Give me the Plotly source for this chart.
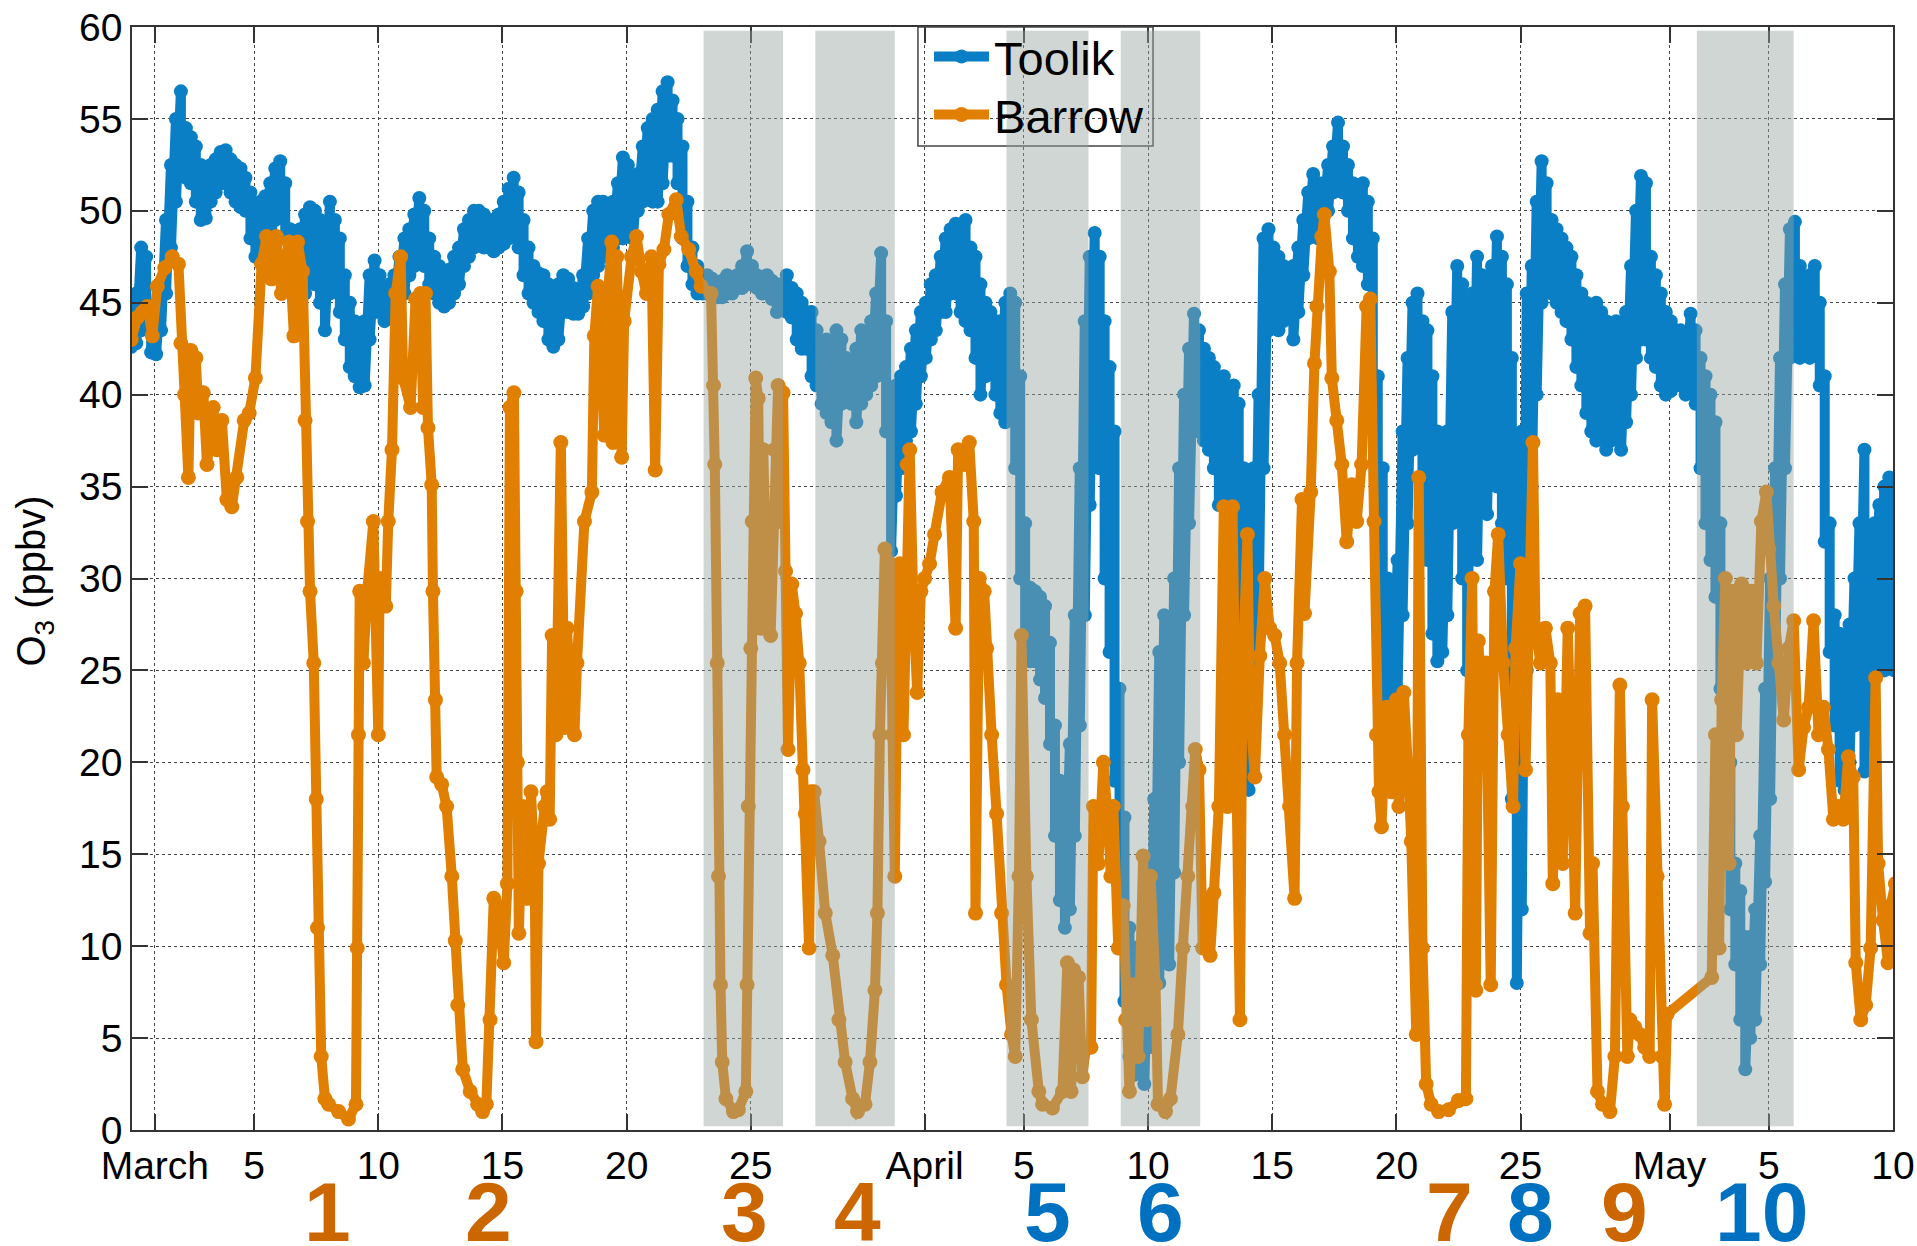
import plotly.graph_objects as go

# ---------------- data (day offset from March 1, 00:00) ----------------
tool_t = [-0.95,-0.75,-0.55,-0.35,-0.15,0.05,0.25,0.45,0.65,0.85,1.05,1.25,1.45,1.65,1.85,2.05,2.25,2.45,2.65,2.85,
          3.05,3.25,3.45,3.65,3.85,4.05,4.25,4.45,4.65,4.85,5.05,5.25,5.45,5.65,5.85,6.05,6.25,6.45,6.65,6.85,
          7.05,7.25,7.45,7.65,7.85,8.05,8.25,8.45,8.65,8.85,9.05,9.25,9.45,9.65,9.85,10.05,10.25,10.45,10.65,10.85,
          11.05,11.25,11.45,11.65,11.85,12.05,12.25,12.45,12.65,12.85,13.05,13.25,13.45,13.65,13.85,14.05,14.25,14.45,14.65,14.85,
          15.05,15.25,15.45,15.65,15.85,16.05,16.25,16.45,16.65,16.85,17.05,17.25,17.45,17.65,17.85,18.05,18.25,18.45,18.65,18.85,
          19.05,19.25,19.45,19.65,19.85,20.05,20.25,20.45,20.65,20.85,21.05,21.25,21.45,21.65,21.85,22.05,22.25,22.45,22.65,22.85,
          23.05,23.25,23.45,23.65,23.85,24.05,24.25,24.45,24.65,24.85,25.05,25.25,25.45,25.65,25.85,26.05,26.25,26.45,26.65,26.85,
          27.05,27.25,27.45,27.65,27.85,28.05,28.25,28.45,28.65,28.85,29.05,29.25,29.45,29.65,29.85,30.05,30.25,30.45,30.65,30.85,
          31.05,31.25,31.45,31.65,31.85,32.05,32.25,32.45,32.65,32.85,33.05,33.25,33.45,33.65,33.85,34.05,34.25,34.45,34.65,34.85,
          35.05,35.25,35.45,35.65,35.85,36.05,36.25,36.45,36.65,36.85,37.05,37.25,37.45,37.65,37.85,38.05,38.25,38.45,38.65,38.85,
          39.05,39.25,39.45,39.65,39.85,40.05,40.25,40.45,40.65,40.85,41.05,41.25,41.45,41.65,41.85,42.05,42.25,42.45,42.65,42.85,
          43.05,43.25,43.45,43.65,43.85,44.05,44.25,44.45,44.65,44.85,45.05,45.25,45.45,45.65,45.85,46.05,46.25,46.45,46.65,46.85,
          47.05,47.25,47.45,47.65,47.85,48.05,48.25,48.45,48.65,48.85,49.05,49.25,49.45,49.65,49.85,50.05,50.25,50.45,50.65,50.85,
          51.05,51.25,51.45,51.65,51.85,52.05,52.25,52.45,52.65,52.85,53.05,53.25,53.45,53.65,53.85,54.05,54.25,54.45,54.65,54.85,
          55.05,55.25,55.45,55.65,55.85,56.05,56.25,56.45,56.65,56.85,57.05,57.25,57.45,57.65,57.85,58.05,58.25,58.45,58.65,58.85,
          59.05,59.25,59.45,59.65,59.85,60.05,60.25,60.45,60.65,60.85,61.05,61.25,61.45,61.65,61.85,62.05,62.25,62.45,62.65,62.85,
          63.05,63.25,63.45,63.65,63.85,64.05,64.25,64.45,64.65,64.85,65.05,65.25,65.45,65.65,65.85,66.05,66.25,66.45,66.65,66.85,
          67.05,67.25,67.45,67.65,67.85,68.05,68.25,68.45,68.65,68.85,69.05,69.25,69.45,69.65,69.85,70.05]
tool_hi = [44.5,45.5,48.0,47.5,44.5,44.5,46.0,49.5,52.5,55.0,56.5,54.5,54.0,53.5,52.5,52.0,52.5,52.8,53.2,53.3,
           52.8,52.5,52.3,51.8,51.0,50.0,50.5,50.8,51.5,52.3,52.7,51.5,49.0,48.5,49.0,49.8,50.2,50.0,49.5,48.5,
           50.5,49.5,48.5,46.5,45.0,44.0,43.0,44.0,46.5,47.3,46.5,45.5,46.0,46.5,47.5,48.5,49.0,49.8,50.7,50.0,
           48.5,47.5,47.0,46.5,46.8,47.5,48.0,49.0,49.5,50.0,50.0,49.8,49.5,49.5,49.8,50.5,51.2,51.8,51.0,49.5,
           48.0,47.0,46.6,46.5,46.0,45.5,46.0,46.5,46.3,45.8,45.5,46.5,48.5,50.0,50.5,50.5,50.2,50.5,51.5,52.9,
           52.5,51.0,52.0,53.5,54.5,55.0,55.5,56.5,57.0,56.0,55.0,53.5,50.5,48.0,47.0,46.5,46.5,46.3,46.0,46.2,
           46.5,46.2,46.5,47.0,47.8,47.0,46.5,46.3,46.5,46.2,46.0,46.0,46.5,45.8,45.5,45.0,44.5,44.5,43.5,42.5,
           43.0,42.0,43.5,43.0,42.0,41.5,42.5,43.5,42.5,44.0,45.5,47.7,44.0,38.0,40.5,41.0,41.5,42.5,43.5,44.5,
           45.0,46.0,46.5,47.5,48.5,49.0,49.3,48.5,49.5,48.0,47.5,46.0,45.0,44.5,44.0,44.0,45.0,45.5,45.0,41.0,
           33.0,29.5,29.3,29.0,28.5,26.5,22.0,19.0,17.0,21.0,28.0,36.0,44.0,47.5,48.8,47.5,44.0,41.5,38.0,24.0,
           17.0,11.0,9.5,10.0,12.0,14.0,18.0,26.0,28.0,26.0,30.0,36.0,40.0,42.5,44.4,43.5,42.5,42.0,41.5,40.5,
           41.0,40.0,40.5,39.5,36.0,33.0,36.0,40.0,48.5,49.0,48.0,47.5,47.0,46.5,47.0,48.0,49.5,51.0,52.0,51.5,
           51.5,52.5,53.5,54.8,53.5,52.5,51.5,51.0,51.5,50.5,48.5,41.0,36.0,30.0,28.5,31.0,38.0,42.0,45.0,45.5,
           44.0,43.5,41.0,38.0,35.0,38.0,44.5,47.0,46.0,44.0,45.5,47.5,46.5,45.5,47.0,48.6,47.5,46.0,42.0,30.0,
           38.0,45.5,47.0,50.5,52.7,51.5,49.5,49.0,48.5,48.0,47.5,46.5,45.5,45.0,44.5,45.0,44.5,44.0,43.5,44.0,
           43.5,44.5,47.0,50.0,51.9,51.5,47.5,46.5,45.5,44.5,44.0,43.5,43.5,43.0,44.4,43.5,42.0,41.0,40.0,38.5,
           33.0,27.0,20.0,14.5,13.0,10.5,10.5,12.0,16.0,24.0,30.0,36.0,42.0,46.0,49.0,49.4,47.0,46.0,46.5,47.0,
           45.0,41.0,33.0,28.0,27.0,26.5,27.5,30.0,33.0,37.0,31.0,33.0,34.0,35.0,35.5,35.0]
tool_lo = [42.6,42.8,43.5,44.0,42.3,42.2,43.5,45.5,48.0,50.5,52.0,51.8,51.5,50.5,49.5,49.6,50.5,51.0,51.5,51.5,
           51.0,50.5,50.2,50.0,48.5,47.5,48.5,48.8,49.0,49.5,50.0,48.5,47.0,45.0,44.5,45.5,46.5,46.0,45.0,43.5,
           45.5,46.0,44.5,43.0,41.5,41.0,40.4,40.5,43.0,44.5,44.5,44.0,44.3,44.5,45.0,45.5,46.5,47.0,47.5,47.0,
           46.0,45.5,45.0,44.8,45.0,45.5,46.0,47.0,47.5,48.0,48.2,48.0,48.0,47.8,48.0,48.2,48.5,49.0,48.0,46.5,
           45.5,45.0,44.5,44.0,43.0,42.6,43.0,44.5,44.5,44.4,44.4,44.8,45.5,46.5,47.0,47.5,47.5,48.0,48.5,48.5,
           49.0,48.5,50.0,50.5,51.0,50.5,50.5,51.5,53.0,53.0,51.5,48.5,47.0,46.0,45.5,45.5,45.5,45.3,45.3,45.3,
           45.5,45.5,45.8,45.8,46.0,46.0,45.8,45.5,45.8,45.2,44.5,44.8,44.5,44.2,43.0,42.5,42.5,41.0,40.5,39.5,
           39.0,38.5,37.5,39.5,40.0,39.5,38.5,39.5,40.0,40.5,41.0,42.0,38.0,31.5,34.5,36.0,37.5,38.0,39.5,41.0,
           42.0,43.0,43.5,44.5,44.5,45.5,45.5,44.5,44.0,43.5,42.0,40.0,41.0,42.0,40.0,39.0,38.5,40.0,36.0,30.0,
           26.0,25.5,25.5,24.5,23.5,21.0,16.0,12.5,11.0,12.0,16.0,22.0,28.0,34.0,38.0,36.0,30.0,26.0,19.0,10.0,
           7.0,4.0,3.0,3.5,2.5,4.5,6.0,8.0,10.0,9.0,14.0,20.0,28.0,33.0,38.0,38.0,37.5,37.0,36.0,34.0,
           34.5,33.0,30.0,22.0,19.5,18.5,22.0,28.0,36.0,43.5,44.0,43.5,44.0,44.5,43.0,44.5,46.5,48.5,49.0,48.5,
           49.0,50.0,51.0,51.5,51.0,50.0,48.5,47.5,47.0,46.0,40.0,31.0,23.0,22.0,21.5,24.0,28.0,33.0,37.0,38.5,
           35.0,31.0,27.0,25.5,26.0,28.0,33.0,36.0,30.0,25.0,33.0,31.0,34.0,33.5,36.0,35.0,33.0,30.0,18.0,8.0,
           12.0,25.0,35.0,40.0,45.0,46.5,45.5,45.0,44.5,44.0,43.0,41.5,40.5,39.0,38.0,37.5,38.0,37.0,37.5,38.0,
           37.0,38.5,40.0,42.0,43.0,43.0,42.0,41.5,40.5,40.0,40.2,40.5,40.5,40.0,40.5,39.5,36.0,33.0,31.0,29.0,
           24.0,16.0,12.0,9.0,6.0,3.3,5.0,6.0,9.0,13.5,18.0,25.0,30.0,36.0,42.0,43.0,42.0,42.5,42.0,43.0,
           40.5,32.0,26.0,22.0,19.0,18.5,20.0,22.0,24.0,19.5,22.0,25.0,26.0,25.0,26.0,25.0]

bar_t = [-0.95,-0.7,-0.5,-0.3,-0.1,0.1,0.4,0.7,0.95,1.05,1.2,1.35,1.45,1.5,1.65,1.75,1.95,2.1,2.35,2.5,
         2.7,2.9,3.1,3.3,3.6,3.8,4.05,4.3,4.5,4.7,4.9,5.1,5.4,5.6,5.75,5.95,6.05,6.15,6.25,6.4,
         6.5,6.55,6.7,6.85,7.0,7.4,7.8,8.1,8.15,8.2,8.25,8.4,8.55,8.8,9.0,9.05,9.3,9.4,9.55,9.7,
         9.9,10.0,10.3,10.5,10.7,10.8,10.9,11.0,11.15,11.2,11.3,11.35,11.55,11.75,11.96,12.1,12.2,12.4,12.7,13.0,
         13.2,13.35,13.5,13.65,13.8,14.05,14.2,14.3,14.46,14.55,14.6,14.66,14.8,15.0,15.15,15.3,15.35,15.45,15.7,15.8,
         15.9,16.0,16.15,16.35,16.5,16.6,16.75,16.9,17.0,17.3,17.6,17.7,17.85,18.0,18.1,18.25,18.4,18.45,18.6,18.8,
         18.9,19.2,19.4,19.6,19.8,20.0,20.15,20.3,20.5,20.7,21.0,21.2,21.5,21.8,22.0,22.4,22.5,22.55,22.65,22.7,
         22.78,22.85,23.0,23.3,23.5,23.8,23.85,23.9,24.0,24.06,24.2,24.3,24.4,24.5,24.65,24.8,24.95,25.1,25.2,25.3,
         25.4,25.5,25.65,25.8,25.95,26.1,26.2,26.35,26.42,26.55,26.75,27.0,27.3,27.55,27.8,28.1,28.3,28.6,28.8,29.0,
         29.1,29.2,29.3,29.4,29.6,29.7,29.8,29.9,30.0,30.15,30.3,30.4,30.55,30.7,30.85,31.0,31.2,31.4,31.7,32.0,
         32.25,32.35,32.6,32.8,32.98,33.05,33.2,33.4,33.5,33.7,33.9,34.1,34.3,34.5,34.65,34.8,34.9,35.1,35.3,35.6,
         35.75,36.15,36.55,36.75,36.9,37.0,37.2,37.35,37.5,37.7,37.8,38.0,38.2,38.4,38.5,38.6,38.8,39.0,39.1,39.25,
         39.4,39.6,39.8,39.95,40.1,40.3,40.4,40.7,40.9,41.2,41.4,41.6,41.8,41.9,42.05,42.2,42.4,42.5,42.65,42.85,
         43.05,43.2,43.4,43.5,43.7,43.8,44.0,44.1,44.3,44.5,44.7,44.9,45.1,45.3,45.5,45.7,45.9,46.0,46.2,46.3,
         46.55,46.7,46.8,47.0,47.1,47.3,47.4,47.6,47.8,48.0,48.2,48.4,48.6,48.8,48.95,49.1,49.2,49.3,49.4,49.6,
         49.8,50.0,50.1,50.3,50.5,50.6,50.8,50.9,51.05,51.2,51.4,51.7,52.1,52.5,52.8,52.9,53.05,53.2,53.3,53.5,
         53.6,53.8,53.95,54.1,54.3,54.5,54.7,54.8,55.0,55.2,55.4,55.5,55.6,55.8,56.0,56.2,56.3,56.5,56.7,56.9,
         57.1,57.2,57.4,57.6,57.8,57.9,58.1,58.3,58.6,58.8,59.0,59.1,59.3,59.4,59.6,59.8,60.0,60.2,60.3,60.5,
         60.7,60.8,60.9,62.7,62.85,63.0,63.1,63.25,63.4,63.5,63.7,63.9,64.1,64.3,64.5,64.7,64.9,65.0,65.2,65.4,
         65.6,65.8,66.0,66.2,66.4,66.6,66.8,67.0,67.2,67.4,67.6,67.8,68.0,68.2,68.4,68.5,68.7,68.9,69.1,69.3,
         69.4,69.6,69.8,69.9,70.1]
bar_v = [43.0,44.2,44.5,44.8,43.2,45.9,46.9,47.5,47.1,42.8,40.0,35.5,42.4,40.9,42.0,39.0,40.1,36.2,39.3,37.0,
         38.6,34.3,33.9,35.5,38.6,39.0,40.9,47.1,48.6,46.3,48.6,45.5,48.3,43.2,48.3,46.7,38.6,33.1,29.3,25.4,
         18.0,11.0,4.0,1.7,1.4,1.0,0.6,1.4,9.9,21.5,29.3,25.4,29.3,33.1,21.5,30.0,28.5,33.1,37.0,45.5,
         47.5,40.9,39.3,45.2,45.5,39.3,45.5,38.2,35.1,29.3,23.4,19.2,18.8,17.6,13.8,10.3,6.8,3.3,2.1,1.4,
         1.0,1.4,6.0,12.6,12.2,9.1,13.4,39.3,40.1,29.3,20.0,10.7,17.6,12.6,18.4,13.8,4.8,14.5,17.6,18.4,
         16.9,26.9,21.5,37.4,21.9,27.3,23.4,21.5,25.4,33.1,34.7,43.2,45.9,40.9,37.8,45.5,48.3,37.4,47.5,36.6,
         44.0,47.5,48.6,46.7,45.5,47.5,35.9,47.1,47.9,49.8,50.6,48.6,47.9,46.7,45.9,45.5,40.5,36.2,25.4,13.8,
         7.9,3.7,1.7,1.0,1.1,2.1,7.9,17.6,26.2,33.1,40.9,39.8,27.3,37.0,29.3,26.9,37.0,40.5,33.1,40.1,
         30.4,20.7,29.7,28.1,25.4,19.6,17.2,9.9,18.4,18.4,15.7,11.8,9.5,6.0,3.7,1.7,1.0,1.4,3.7,7.6,
         11.8,21.5,25.4,31.6,30.8,21.5,13.8,25.4,30.8,21.5,36.2,37.0,28.5,23.8,29.3,30.0,30.8,32.4,34.7,35.5,
         27.3,37.0,36.2,37.4,33.1,11.8,30.0,29.3,26.2,21.5,17.2,11.8,7.9,5.2,4.0,13.8,26.9,13.8,6.0,2.1,
         1.4,1.2,2.1,9.1,2.1,8.7,8.3,2.9,4.5,4.5,17.6,14.5,20.0,16.5,13.8,17.6,9.9,12.2,6.0,2.1,
         7.9,4.0,14.9,6.0,13.8,7.9,1.4,1.0,1.7,5.2,9.9,13.8,17.6,20.7,19.6,9.9,12.6,9.5,12.9,17.6,
         33.9,17.6,33.9,21.5,6.0,24.6,32.4,23.0,19.2,25.8,30.0,27.3,26.9,25.4,21.5,17.6,12.6,25.4,34.3,28.1,
         34.7,41.7,44.8,48.6,49.8,46.7,40.9,38.6,36.2,32.0,35.1,33.1,36.2,44.8,45.2,33.1,21.5,18.4,16.5,23.0,
         18.4,23.4,17.6,23.8,18.8,15.7,5.2,35.5,9.9,2.5,1.4,1.0,1.1,1.6,1.7,21.5,30.0,7.6,26.6,21.5,
         25.4,7.9,29.3,32.4,25.4,21.5,17.6,26.2,30.8,19.6,28.5,37.4,27.3,25.4,27.3,25.4,13.4,23.4,14.5,27.3,
         17.6,11.8,28.1,28.5,10.7,14.5,2.1,1.4,1.0,4.0,24.2,17.6,4.0,6.0,5.6,5.2,4.5,4.0,23.4,13.8,
         4.0,1.4,6.3,8.3,21.5,9.9,23.4,30.0,14.5,29.3,21.5,29.7,25.4,29.3,25.4,33.1,34.7,31.6,28.5,25.4,
         22.3,26.2,27.7,19.6,21.9,23.0,27.7,21.5,23.0,20.7,16.9,17.6,16.9,20.3,19.2,9.1,6.0,6.8,9.9,24.6,
         14.5,11.4,9.1,12.2,13.4]

tick_days = [0, 4, 9, 14, 19, 24, 31, 35, 40, 45, 50, 55, 61, 65, 70]
tick_text = ["March", "5", "10", "15", "20", "25", "April", "5", "10", "15", "20", "25", "May", "5", "10"]

shade_start = [22.1, 26.6, 34.3, 38.9, 62.1]
shade_end = [25.3, 29.8, 37.6, 42.1, 66.0]

event_labels = ["1", "2", "3", "4", "5", "6", "7", "8", "9", "10"]
event_days = [6.95, 13.45, 23.75, 28.3, 35.95, 40.5, 52.15, 55.4, 59.2, 64.7]
event_site = ["Barrow", "Barrow", "Barrow", "Barrow", "Toolik", "Toolik", "Barrow", "Toolik", "Barrow", "Toolik"]

y_title = "O<sub>3</sub> (ppbv)"

# ---------------- figure ----------------
BLUE = "#0a7fc6"
ORANGE = "#e17f00"
FONT = "Liberation Sans, Arial, Helvetica, sans-serif"

tool_x = [t for t in tool_t for _ in (0, 1)]
tool_y = [v for pair in zip(tool_hi, tool_lo) for v in pair]

fig = go.Figure()
fig.add_trace(go.Scatter(x=tool_x, y=tool_y, name="Toolik", mode="lines+markers", legend="legend",
                         line=dict(color=BLUE, width=10), marker=dict(color=BLUE, size=14)))
fig.add_trace(go.Scatter(x=bar_t, y=bar_v, name="Barrow", mode="lines+markers", legend="legend2",
                         line=dict(color=ORANGE, width=10), marker=dict(color=ORANGE, size=15)))

# legend frame (drawn as a shape so the shaded bands can pass over it, as in the original)
fig.add_shape(type="rect", xref="paper", yref="paper", x0=0.4463, x1=0.5798, y0=0.8921, y1=1.0,
              line=dict(color="#444444", width=1.5), fillcolor="rgba(0,0,0,0)", layer="above")

for s, e in zip(shade_start, shade_end):
    fig.add_shape(type="rect", xref="x", yref="y", x0=s, x1=e, y0=0.2, y1=59.8,
                  fillcolor="rgb(150,165,158)", opacity=0.45, line=dict(width=0), layer="above")

site_colors = {"Barrow": "#cc6600", "Toolik": "#0070c0"}
for lab, d, site in zip(event_labels, event_days, event_site):
    fig.add_annotation(x=d, y=-0.074, xref="x", yref="paper", text="<b>%s</b>" % lab,
                       showarrow=False, xanchor="center", yanchor="middle",
                       font=dict(family=FONT, size=84, color=site_colors[site]))

# y-axis title placed precisely at the left edge
fig.add_annotation(x=-0.0557, y=0.498, xref="paper", yref="paper", text=y_title, textangle=-90,
                   showarrow=False, xanchor="center", yanchor="middle",
                   font=dict(family=FONT, size=40, color="black"))

axis_common = dict(showline=True, linecolor="#333333", linewidth=1.5, mirror="ticks",
                   ticks="inside", ticklen=16, tickwidth=1.5, tickcolor="#333333",
                   showgrid=True, gridcolor="#444444", griddash="dot", gridwidth=1,
                   zeroline=False, tickfont=dict(family=FONT, size=39, color="black"))

fig.update_xaxes(range=[-0.92, 70.0], tickmode="array", tickvals=tick_days, ticktext=tick_text,
                 **axis_common)
fig.update_yaxes(range=[0, 60], tickmode="array", tickvals=list(range(0, 61, 5)), **axis_common)

legend_common = dict(xanchor="left", yanchor="middle", bgcolor="rgba(0,0,0,0)", borderwidth=0,
                     font=dict(family=FONT, size=47, color="black"), itemwidth=55)
fig.update_layout(
    width=1917, height=1246,
    margin=dict(l=132, r=24, t=27, b=116, autoexpand=False),
    plot_bgcolor="white", paper_bgcolor="white",
    showlegend=True,
    legend=dict(x=0.4526, y=0.9728, **legend_common),
    legend2=dict(x=0.4526, y=0.9202, **legend_common),
)

fig.write_html("out.html", config={"displayModeBar": False},
               post_script="document.body.style.margin='0';")
